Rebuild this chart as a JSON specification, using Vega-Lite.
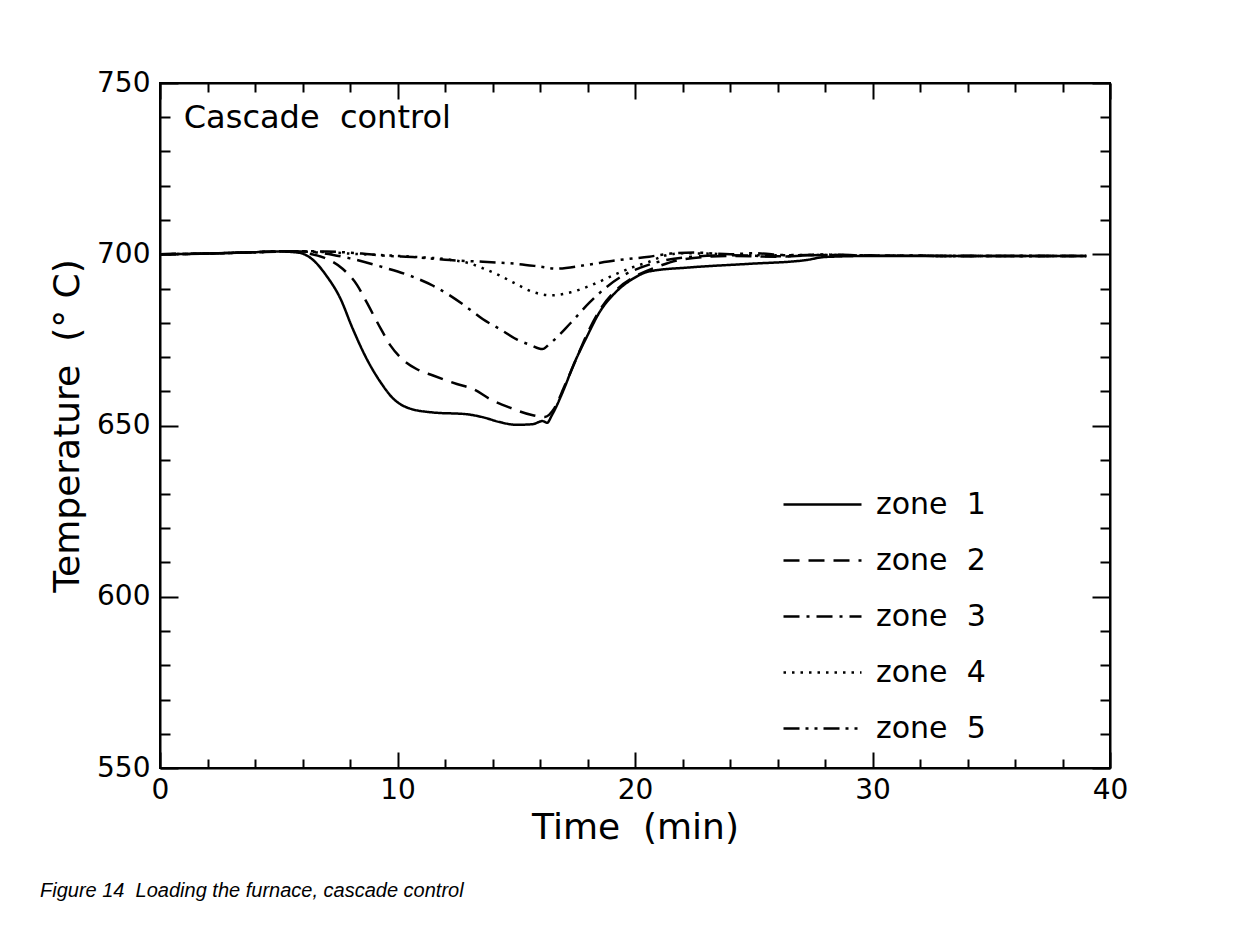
{
  "$schema": "https://vega.github.io/schema/vega-lite/v6.json",
  "width": 950,
  "height": 685,
  "autosize": {"type": "none"},
  "padding": {"left": 160, "top": 83, "right": 146, "bottom": 159},
  "background": "white",
  "config": {
    "view": {"stroke": "black", "strokeWidth": 2},
    "font": "DejaVu Sans",
    "axis": {"domainColor": "black", "domainWidth": 2, "tickColor": "black", "tickWidth": 2, "grid": false, "labelColor": "black", "titleColor": "black", "labelFont": "DejaVu Sans", "titleFont": "DejaVu Sans", "titleFontWeight": "normal"}
  },
  "title": {
    "text": "Figure 14\u00a0 Loading the furnace, cascade control",
    "orient": "bottom",
    "anchor": "start",
    "frame": "group",
    "dx": -120,
    "offset": 36,
    "font": "Liberation Sans",
    "fontStyle": "italic",
    "fontWeight": "normal",
    "fontSize": 20,
    "color": "black"
  },
  "layer": [
    {
      "data": {"name": "curves", "values": [
        {"zone": "zone\u00a0 1", "t": 0, "T": 700}, {"zone": "zone\u00a0 1", "t": 2, "T": 700.2}, {"zone": "zone\u00a0 1", "t": 4, "T": 700.6}, {"zone": "zone\u00a0 1", "t": 5, "T": 700.8}, {"zone": "zone\u00a0 1", "t": 5.8, "T": 700.5}, {"zone": "zone\u00a0 1", "t": 6.4, "T": 698.6}, {"zone": "zone\u00a0 1", "t": 7.0, "T": 693.8}, {"zone": "zone\u00a0 1", "t": 7.6, "T": 687}, {"zone": "zone\u00a0 1", "t": 8.1, "T": 678.5}, {"zone": "zone\u00a0 1", "t": 8.7, "T": 669.5}, {"zone": "zone\u00a0 1", "t": 9.3, "T": 662.5}, {"zone": "zone\u00a0 1", "t": 9.8, "T": 658}, {"zone": "zone\u00a0 1", "t": 10.5, "T": 655}, {"zone": "zone\u00a0 1", "t": 11.5, "T": 653.8}, {"zone": "zone\u00a0 1", "t": 12.9, "T": 653.3}, {"zone": "zone\u00a0 1", "t": 13.6, "T": 652.4}, {"zone": "zone\u00a0 1", "t": 14.3, "T": 651}, {"zone": "zone\u00a0 1", "t": 15.0, "T": 650.2}, {"zone": "zone\u00a0 1", "t": 15.7, "T": 650.4}, {"zone": "zone\u00a0 1", "t": 16.1, "T": 651.3}, {"zone": "zone\u00a0 1", "t": 16.3, "T": 650.8}, {"zone": "zone\u00a0 1", "t": 16.5, "T": 653}, {"zone": "zone\u00a0 1", "t": 17.0, "T": 660.5}, {"zone": "zone\u00a0 1", "t": 17.4, "T": 667.5}, {"zone": "zone\u00a0 1", "t": 18.0, "T": 676.3}, {"zone": "zone\u00a0 1", "t": 18.5, "T": 683}, {"zone": "zone\u00a0 1", "t": 19.2, "T": 689}, {"zone": "zone\u00a0 1", "t": 19.9, "T": 692.8}, {"zone": "zone\u00a0 1", "t": 20.6, "T": 695}, {"zone": "zone\u00a0 1", "t": 22.4, "T": 696.2}, {"zone": "zone\u00a0 1", "t": 24.8, "T": 697.2}, {"zone": "zone\u00a0 1", "t": 27.2, "T": 698.3}, {"zone": "zone\u00a0 1", "t": 28, "T": 699.2}, {"zone": "zone\u00a0 1", "t": 30, "T": 699.5}, {"zone": "zone\u00a0 1", "t": 35, "T": 699.5}, {"zone": "zone\u00a0 1", "t": 39, "T": 699.5},
        {"zone": "zone\u00a0 2", "t": 0, "T": 700}, {"zone": "zone\u00a0 2", "t": 2, "T": 700.2}, {"zone": "zone\u00a0 2", "t": 4, "T": 700.6}, {"zone": "zone\u00a0 2", "t": 5.5, "T": 700.8}, {"zone": "zone\u00a0 2", "t": 6.2, "T": 700.3}, {"zone": "zone\u00a0 2", "t": 6.9, "T": 699}, {"zone": "zone\u00a0 2", "t": 7.7, "T": 695.7}, {"zone": "zone\u00a0 2", "t": 8.3, "T": 691}, {"zone": "zone\u00a0 2", "t": 8.7, "T": 686}, {"zone": "zone\u00a0 2", "t": 9.3, "T": 678.2}, {"zone": "zone\u00a0 2", "t": 9.7, "T": 673.4}, {"zone": "zone\u00a0 2", "t": 10.2, "T": 669.4}, {"zone": "zone\u00a0 2", "t": 10.8, "T": 666.5}, {"zone": "zone\u00a0 2", "t": 11.5, "T": 664.6}, {"zone": "zone\u00a0 2", "t": 12.5, "T": 662.1}, {"zone": "zone\u00a0 2", "t": 13.2, "T": 660.6}, {"zone": "zone\u00a0 2", "t": 13.9, "T": 657.7}, {"zone": "zone\u00a0 2", "t": 14.7, "T": 655.3}, {"zone": "zone\u00a0 2", "t": 15.7, "T": 653}, {"zone": "zone\u00a0 2", "t": 16.2, "T": 652.5}, {"zone": "zone\u00a0 2", "t": 16.6, "T": 655}, {"zone": "zone\u00a0 2", "t": 17.0, "T": 661}, {"zone": "zone\u00a0 2", "t": 17.5, "T": 669}, {"zone": "zone\u00a0 2", "t": 18.0, "T": 677}, {"zone": "zone\u00a0 2", "t": 18.5, "T": 683.5}, {"zone": "zone\u00a0 2", "t": 19.2, "T": 689.5}, {"zone": "zone\u00a0 2", "t": 20.0, "T": 693.5}, {"zone": "zone\u00a0 2", "t": 21.0, "T": 696.5}, {"zone": "zone\u00a0 2", "t": 22, "T": 698.5}, {"zone": "zone\u00a0 2", "t": 24, "T": 699.5}, {"zone": "zone\u00a0 2", "t": 26, "T": 699.3}, {"zone": "zone\u00a0 2", "t": 28, "T": 699.8}, {"zone": "zone\u00a0 2", "t": 30, "T": 699.6}, {"zone": "zone\u00a0 2", "t": 35, "T": 699.5}, {"zone": "zone\u00a0 2", "t": 39, "T": 699.5},
        {"zone": "zone\u00a0 3", "t": 0, "T": 700}, {"zone": "zone\u00a0 3", "t": 2, "T": 700.2}, {"zone": "zone\u00a0 3", "t": 4, "T": 700.6}, {"zone": "zone\u00a0 3", "t": 5.5, "T": 700.9}, {"zone": "zone\u00a0 3", "t": 6.5, "T": 700.6}, {"zone": "zone\u00a0 3", "t": 7.3, "T": 699.8}, {"zone": "zone\u00a0 3", "t": 8.0, "T": 698.8}, {"zone": "zone\u00a0 3", "t": 9.4, "T": 696.2}, {"zone": "zone\u00a0 3", "t": 10.5, "T": 693.8}, {"zone": "zone\u00a0 3", "t": 11.5, "T": 690.8}, {"zone": "zone\u00a0 3", "t": 12.2, "T": 688}, {"zone": "zone\u00a0 3", "t": 13.1, "T": 683.6}, {"zone": "zone\u00a0 3", "t": 13.6, "T": 681}, {"zone": "zone\u00a0 3", "t": 14.3, "T": 678.2}, {"zone": "zone\u00a0 3", "t": 15.0, "T": 675.2}, {"zone": "zone\u00a0 3", "t": 15.6, "T": 673.5}, {"zone": "zone\u00a0 3", "t": 16.1, "T": 672.3}, {"zone": "zone\u00a0 3", "t": 16.4, "T": 673.8}, {"zone": "zone\u00a0 3", "t": 17.3, "T": 680}, {"zone": "zone\u00a0 3", "t": 18.1, "T": 686}, {"zone": "zone\u00a0 3", "t": 18.8, "T": 690.4}, {"zone": "zone\u00a0 3", "t": 19.5, "T": 693.8}, {"zone": "zone\u00a0 3", "t": 20.2, "T": 696}, {"zone": "zone\u00a0 3", "t": 21, "T": 697.8}, {"zone": "zone\u00a0 3", "t": 22, "T": 699}, {"zone": "zone\u00a0 3", "t": 24, "T": 699.7}, {"zone": "zone\u00a0 3", "t": 26, "T": 699.4}, {"zone": "zone\u00a0 3", "t": 28, "T": 699.8}, {"zone": "zone\u00a0 3", "t": 30, "T": 699.6}, {"zone": "zone\u00a0 3", "t": 35, "T": 699.5}, {"zone": "zone\u00a0 3", "t": 39, "T": 699.5},
        {"zone": "zone\u00a0 4", "t": 0, "T": 700}, {"zone": "zone\u00a0 4", "t": 2, "T": 700.2}, {"zone": "zone\u00a0 4", "t": 4, "T": 700.6}, {"zone": "zone\u00a0 4", "t": 5.5, "T": 700.9}, {"zone": "zone\u00a0 4", "t": 7, "T": 700.6}, {"zone": "zone\u00a0 4", "t": 8.5, "T": 700}, {"zone": "zone\u00a0 4", "t": 9.5, "T": 699.7}, {"zone": "zone\u00a0 4", "t": 10.8, "T": 699.2}, {"zone": "zone\u00a0 4", "t": 12.2, "T": 698.4}, {"zone": "zone\u00a0 4", "t": 13.1, "T": 697.2}, {"zone": "zone\u00a0 4", "t": 13.6, "T": 695.9}, {"zone": "zone\u00a0 4", "t": 14.3, "T": 693.8}, {"zone": "zone\u00a0 4", "t": 15.0, "T": 691.3}, {"zone": "zone\u00a0 4", "t": 15.7, "T": 689}, {"zone": "zone\u00a0 4", "t": 16.5, "T": 688}, {"zone": "zone\u00a0 4", "t": 17.3, "T": 688.9}, {"zone": "zone\u00a0 4", "t": 18.1, "T": 690.8}, {"zone": "zone\u00a0 4", "t": 19.2, "T": 694.2}, {"zone": "zone\u00a0 4", "t": 19.9, "T": 696.2}, {"zone": "zone\u00a0 4", "t": 20.6, "T": 697.8}, {"zone": "zone\u00a0 4", "t": 21.2, "T": 699.5}, {"zone": "zone\u00a0 4", "t": 22, "T": 700.3}, {"zone": "zone\u00a0 4", "t": 23, "T": 700.2}, {"zone": "zone\u00a0 4", "t": 25, "T": 699.7}, {"zone": "zone\u00a0 4", "t": 28, "T": 699.8}, {"zone": "zone\u00a0 4", "t": 30, "T": 699.6}, {"zone": "zone\u00a0 4", "t": 35, "T": 699.5}, {"zone": "zone\u00a0 4", "t": 39, "T": 699.5},
        {"zone": "zone\u00a0 5", "t": 0, "T": 700}, {"zone": "zone\u00a0 5", "t": 2, "T": 700.2}, {"zone": "zone\u00a0 5", "t": 4, "T": 700.6}, {"zone": "zone\u00a0 5", "t": 5.5, "T": 700.9}, {"zone": "zone\u00a0 5", "t": 7, "T": 700.8}, {"zone": "zone\u00a0 5", "t": 8.5, "T": 700.2}, {"zone": "zone\u00a0 5", "t": 9.4, "T": 699.6}, {"zone": "zone\u00a0 5", "t": 10.8, "T": 699.1}, {"zone": "zone\u00a0 5", "t": 12.2, "T": 698.3}, {"zone": "zone\u00a0 5", "t": 13.6, "T": 697.8}, {"zone": "zone\u00a0 5", "t": 15.0, "T": 697.2}, {"zone": "zone\u00a0 5", "t": 16, "T": 696.4}, {"zone": "zone\u00a0 5", "t": 16.7, "T": 695.8}, {"zone": "zone\u00a0 5", "t": 17.8, "T": 696.7}, {"zone": "zone\u00a0 5", "t": 19.2, "T": 698.2}, {"zone": "zone\u00a0 5", "t": 20.6, "T": 699.3}, {"zone": "zone\u00a0 5", "t": 21.5, "T": 700.2}, {"zone": "zone\u00a0 5", "t": 22.5, "T": 700.5}, {"zone": "zone\u00a0 5", "t": 24, "T": 700}, {"zone": "zone\u00a0 5", "t": 25, "T": 700.3}, {"zone": "zone\u00a0 5", "t": 26.5, "T": 699.7}, {"zone": "zone\u00a0 5", "t": 28, "T": 699.9}, {"zone": "zone\u00a0 5", "t": 30, "T": 699.6}, {"zone": "zone\u00a0 5", "t": 35, "T": 699.5}, {"zone": "zone\u00a0 5", "t": 39, "T": 699.5}
      ]},
      "mark": {"type": "line", "interpolate": "monotone", "strokeWidth": 2.5, "color": "black"},
      "encoding": {
        "x": {
          "field": "t", "type": "quantitative",
          "scale": {"domain": [0, 40], "nice": false},
          "axis": {
            "orient": "bottom",
            "title": "Time\u00a0 (min)",
            "titleFontSize": 36,
            "titlePadding": -1,
            "values": [0, 2, 4, 6, 8, 10, 12, 14, 16, 18, 20, 22, 24, 26, 28, 30, 32, 34, 36, 38, 40],
            "labelExpr": "datum.value % 10 === 0 ? datum.label : ''",
            "labelFontSize": 28,
            "labelPadding": 24,
            "labelFlush": false,
            "labelOverlap": false,
            "tickSize": {"condition": {"test": "datum.value % 10 === 0", "value": -16}, "value": -9}
          }
        },
        "y": {
          "field": "T", "type": "quantitative",
          "scale": {"domain": [550, 750], "nice": false, "zero": false},
          "axis": {
            "orient": "left",
            "title": "Temperature\u00a0 (°\u00a0C)",
            "titleFontSize": 36,
            "titlePadding": 10,
            "values": [550, 560, 570, 580, 590, 600, 610, 620, 630, 640, 650, 660, 670, 680, 690, 700, 710, 720, 730, 740, 750],
            "labelExpr": "datum.value % 50 === 0 ? datum.label : ''",
            "labelFontSize": 28,
            "labelPadding": 28,
            "labelFlush": false,
            "labelOverlap": false,
            "tickSize": {"condition": {"test": "datum.value % 50 === 0", "value": -18}, "value": -10}
          }
        },
        "strokeDash": {
          "field": "zone", "type": "nominal",
          "scale": {
            "domain": ["zone\u00a0 1", "zone\u00a0 2", "zone\u00a0 3", "zone\u00a0 4", "zone\u00a0 5"],
            "range": [[1, 0], [16, 9], [16, 7, 3, 7], [2.5, 6], [16, 6, 3, 6, 3, 6]]
          },
          "legend": {
            "orient": "none",
            "legendX": 622,
            "legendY": 381,
            "title": null,
            "symbolType": "stroke",
            "symbolSize": 6084,
            "symbolStrokeWidth": 2.5,
            "symbolStrokeColor": "black",
            "labelFont": "DejaVu Sans",
            "labelFontSize": 30,
            "labelColor": "black",
            "labelOffset": 13,
            "rowPadding": 0
          }
        }
      }
    },
    {
      "data": {"name": "curves"},
      "mark": {"type": "point", "opacity": 0},
      "encoding": {
        "x": {
          "field": "t", "type": "quantitative",
          "axis": {
            "orient": "top", "title": null, "labels": false,
            "values": [0, 2, 4, 6, 8, 10, 12, 14, 16, 18, 20, 22, 24, 26, 28, 30, 32, 34, 36, 38, 40],
            "tickSize": {"condition": {"test": "datum.value % 10 === 0", "value": -16}, "value": -9}
          }
        },
        "y": {
          "field": "T", "type": "quantitative",
          "axis": {
            "orient": "right", "title": null, "labels": false,
            "values": [550, 560, 570, 580, 590, 600, 610, 620, 630, 640, 650, 660, 670, 680, 690, 700, 710, 720, 730, 740, 750],
            "tickSize": {"condition": {"test": "datum.value % 50 === 0", "value": -18}, "value": -10}
          }
        }
      }
    },
    {
      "data": {"values": [{"label": "Cascade\u00a0 control"}]},
      "mark": {"type": "text", "align": "left", "baseline": "alphabetic", "fontSize": 32, "font": "DejaVu Sans", "color": "black"},
      "encoding": {
        "x": {"datum": 1, "type": "quantitative", "axis": null},
        "y": {"datum": 737, "type": "quantitative", "axis": null},
        "text": {"field": "label"}
      }
    }
  ],
  "resolve": {"axis": {"x": "independent", "y": "independent"}}
}
